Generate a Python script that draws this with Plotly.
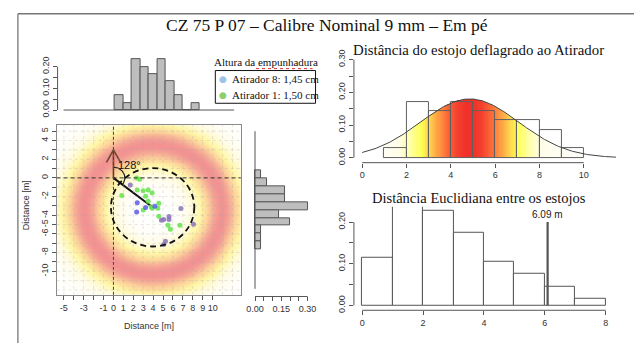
import numpy as np
import plotly.graph_objects as go

W, H = 634, 349

# ---------------- data ----------------
green_x = [2.34, 2.64, 0.84, 2.40, 3.00, 3.50, 3.90, 3.24, 3.50, 4.57, 3.90, 3.00, 4.47, 4.57, 5.50, 5.74, 6.70, 3.80]
green_y = [-0.02, -0.15, -1.90, -1.29, -1.39, -1.29, -1.63, -1.98, -2.50, -2.73, -3.25, -3.45, -3.25, -4.10, -5.07, -5.50, -5.07, -3.10]
blue_x = [2.40, 3.24, 2.34, 4.17]
blue_y = [-2.66, -3.18, -3.66, -3.04]
purple_x = [1.70, 5.07, 4.84, 5.60, 5.60, 6.80, 8.07, 5.24, 5.07]
purple_y = [-0.77, -4.45, -4.55, -4.14, -4.45, -3.28, -4.97, -6.79, -7.13]

main_xticks = list(range(-5, 11))
main_xtext = ["-5", "", "-3", "", "-1", "0", "1", "2", "3", "4", "5", "6", "7", "8", "9", "10"]
main_yticks = list(range(5, -11, -1))
main_ytext = ["5", "4", "", "2", "", "0", "", "-2", "", "-4", "-5", "-6", "", "-8", "", "-10"]

top_hist_left = [0, 1, 2, 3, 4, 5, 6, 7, 8, 9]
top_hist_vals = [0.067, 0.033, 0.233, 0.200, 0.167, 0.233, 0.133, 0.067, 0.0, 0.033]

right_hist_top = [1, 0, -1, -2, -3, -4, -5, -6, -7, -8]
right_hist_vals = [0.032, 0.069, 0.169, 0.169, 0.303, 0.135, 0.200, 0.032, 0.032, 0.032]

dist_left = [1, 2, 3, 4, 5, 6, 7, 8, 9]
dist_vals = [0.029, 0.171, 0.143, 0.171, 0.143, 0.114, 0.114, 0.086, 0.029]
DIST_MEAN, DIST_SD = 4.85, 2.216

eucl_left = [0, 1, 2, 3, 4, 5, 6, 7]
eucl_vals = [0.115, 0.245, 0.228, 0.175, 0.105, 0.077, 0.044, 0.017]
EUCL_MARK = 6.09

CENTER_X, CENTER_Y, CIRCLE_R = 3.95, -3.15, 4.2
ANGLE_DEG = 128
ARROW_LEN = 3.0
RING_CX, RING_CY, RING_R, RING_S = 4.0, -3.4, 6.9, 1.85

# ---------------- helpers ----------------
def px(x):
    return x / W

def py(y):
    return 1 - y / H

SANS = "Liberation Sans"
SERIF = "Liberation Serif"
AX = "#555555"
TF = dict(family=SANS, size=9, color="#333333")

fig = go.Figure()

# ---- main panel background ring ----
hx = np.arange(-5.8, 12.95, 0.1)
hy = np.arange(-12.6, 5.75, 0.1)
XX, YY = np.meshgrid(hx, hy)
DD = np.hypot(XX - RING_CX, YY - RING_CY)
ZZ = np.exp(-(DD - RING_R) ** 2 / (2 * RING_S ** 2))
fig.add_trace(go.Heatmap(
    x=hx, y=hy, z=ZZ, zmin=0, zmax=1, showscale=False, hoverinfo="skip",
    colorscale=[[0, "#ffffff"], [0.22, "#fffbe2"], [0.5, "#fff6a6"], [0.75, "#fcd09a"], [1, "#f29292"]],
    xaxis="x", yaxis="y"))

# arrow north
fig.add_trace(go.Scatter(x=[0, 0], y=[0, ARROW_LEN], mode="lines",
                         line=dict(color="#7a3b1e", width=1.6), xaxis="x", yaxis="y", hoverinfo="skip"))
fig.add_trace(go.Scatter(x=[-0.7, 0, 0.72], y=[ARROW_LEN - 1.35, ARROW_LEN, ARROW_LEN - 1.35], mode="lines",
                         line=dict(color="#6b4a2a", width=1.6), xaxis="x", yaxis="y", hoverinfo="skip"))
# arc for angle
th = np.radians(np.linspace(0, ANGLE_DEG, 40))
fig.add_trace(go.Scatter(x=1.15 * np.sin(th), y=1.15 * np.cos(th), mode="lines",
                         line=dict(color="#222222", width=1.2), xaxis="x", yaxis="y", hoverinfo="skip"))
# line to centre
fig.add_trace(go.Scatter(x=[0, CENTER_X], y=[0, CENTER_Y], mode="lines",
                         line=dict(color="#111111", width=2), xaxis="x", yaxis="y", hoverinfo="skip"))
# points
fig.add_trace(go.Scatter(x=green_x, y=green_y, mode="markers",
                         marker=dict(color="#62e448", size=5, opacity=0.85), xaxis="x", yaxis="y"))
fig.add_trace(go.Scatter(x=blue_x, y=blue_y, mode="markers",
                         marker=dict(color="#5a5ae8", size=5, opacity=0.85), xaxis="x", yaxis="y"))
fig.add_trace(go.Scatter(x=purple_x, y=purple_y, mode="markers",
                         marker=dict(color="#8a72b8", size=5, opacity=0.85), xaxis="x", yaxis="y"))

# ---- top histogram ----
fig.add_trace(go.Bar(x=[l + 0.5 for l in top_hist_left], y=top_hist_vals, width=1,
                     marker=dict(color="#bebebe", line=dict(color="#555555", width=1)),
                     xaxis="x2", yaxis="y2", hoverinfo="skip"))
# ---- right histogram ----
fig.add_trace(go.Bar(y=[t - 0.5 for t in right_hist_top], x=right_hist_vals, width=1, orientation="h",
                     marker=dict(color="#bebebe", line=dict(color="#555555", width=1)),
                     xaxis="x3", yaxis="y3", hoverinfo="skip"))

# ---- distance histogram with gradient fill ----
def dnorm(x):
    return np.exp(-(x - DIST_MEAN) ** 2 / (2 * DIST_SD ** 2)) / (DIST_SD * np.sqrt(2 * np.pi))

peak = dnorm(DIST_MEAN)
gx = np.arange(1.0 + 0.025, 10.0, 0.05)
gy = np.arange(0.001, 0.19, 0.002)
cv = dnorm(gx)
Z2 = np.where(gy[:, None] <= cv[None, :], (cv / peak)[None, :] * np.ones((len(gy), 1)), np.nan)
fig.add_trace(go.Heatmap(
    x=gx, y=gy, z=Z2, zmin=0, zmax=1, showscale=False, hoverinfo="skip",
    colorscale=[[0, "#ffffff"], [0.35, "#fffde8"], [0.5, "#ffff9a"], [0.62, "#ffff55"],
                [0.75, "#ffc24a"], [0.88, "#ff7a3c"], [1, "#f0302a"]],
    xaxis="x4", yaxis="y4"))
fig.add_trace(go.Bar(x=[l + 0.5 for l in dist_left], y=dist_vals, width=1,
                     marker=dict(color="rgba(0,0,0,0)", line=dict(color="#606060", width=1)),
                     xaxis="x4", yaxis="y4", hoverinfo="skip"))
cx = np.linspace(0, 11.45, 200)
fig.add_trace(go.Scatter(x=cx, y=dnorm(cx), mode="lines", line=dict(color="#444444", width=1),
                         xaxis="x4", yaxis="y4", hoverinfo="skip"))

# ---- euclidean histogram ----
fig.add_trace(go.Bar(x=[l + 0.5 for l in eucl_left], y=eucl_vals, width=1,
                     marker=dict(color="white", line=dict(color="#555555", width=1)),
                     xaxis="x5", yaxis="y5", hoverinfo="skip"))
fig.add_trace(go.Scatter(x=[EUCL_MARK, EUCL_MARK], y=[0, 0.20], mode="lines",
                         line=dict(color="#555555", width=2.2), xaxis="x5", yaxis="y5", hoverinfo="skip"))

# ---------------- axes ----------------
def base_axis(**kw):
    d = dict(showgrid=False, zeroline=False, ticks="outside", ticklen=4, tickcolor=AX,
             tickfont=TF, showline=False, fixedrange=True)
    d.update(kw)
    return d

layout_axes = dict(
    xaxis=base_axis(domain=[px(52), px(237.7)], range=[-5.73, 12.84], anchor="y",
                    tickvals=main_xticks, ticktext=main_xtext, showline=True, mirror=True,
                    linecolor="#8a8a8a", linewidth=1),
    yaxis=base_axis(domain=[py(299), py(122.7)], range=[-12.53, 5.65], anchor="x",
                    tickvals=main_yticks, ticktext=main_ytext, tickangle=-90, showline=True, mirror=True,
                    linecolor="#8a8a8a", linewidth=1),
    xaxis2=base_axis(domain=[px(53), px(235)], range=[-6.7, 14.47], anchor="y2",
                     showticklabels=False, ticks=""),
    yaxis2=base_axis(domain=[py(108), py(50)], range=[-0.0044, 0.2533], anchor="x2",
                     tickvals=[0, 0.05, 0.1, 0.15, 0.2], ticktext=["0.00", "", "0.10", "", "0.20"],
                     tickangle=-90),
    xaxis3=base_axis(domain=[px(248), px(318)], range=[-0.0226, 0.3735], anchor="y3",
                     tickvals=[0, 0.05, 0.1, 0.15, 0.2, 0.25, 0.3],
                     ticktext=["0.00", "", "", "0.15", "", "", "0.30"]),
    yaxis3=base_axis(domain=[py(300.7), py(125)], range=[-14.97, 6.49], anchor="x3",
                     showticklabels=False, ticks=""),
    xaxis4=base_axis(domain=[px(351.7), px(620)], range=[-0.372, 11.64], anchor="y4",
                     tickvals=[0, 2, 4, 6, 8, 10]),
    yaxis4=base_axis(domain=[py(161.7), py(52)], range=[-0.0147, 0.308], anchor="x4",
                     tickvals=[0, 0.05, 0.1, 0.15, 0.2, 0.25, 0.3],
                     ticktext=["0.00", "", "0.10", "", "0.20", "", "0.30"], tickangle=-90),
    xaxis5=base_axis(domain=[px(351.7), px(612)], range=[-0.27, 8.21], anchor="y5",
                     tickvals=[0, 2, 4, 6, 8]),
    yaxis5=base_axis(domain=[py(315), py(207.5)], range=[-0.01155, 0.2367], anchor="x5",
                     tickvals=[0, 0.05, 0.1, 0.15, 0.2], ticktext=["0.00", "", "0.10", "", "0.20"],
                     tickangle=-90),
)

shapes = []
# outer frame
shapes.append(dict(type="line", xref="paper", yref="paper", x0=px(13), x1=1, y0=py(7), y1=py(7),
                   line=dict(color="#777777", width=1.3)))
shapes.append(dict(type="line", xref="paper", yref="paper", x0=px(13), x1=px(13), y0=py(7), y1=0,
                   line=dict(color="#777777", width=1.3)))
# grid in main panel
for gxv in range(-5, 13):
    shapes.append(dict(type="line", xref="x", yref="y domain", x0=gxv, x1=gxv, y0=0, y1=1, layer="above",
                       line=dict(color="rgba(170,170,170,0.3)", width=1, dash="dot")))
for gyv in range(-12, 6):
    shapes.append(dict(type="line", xref="x domain", yref="y", x0=0, x1=1, y0=gyv, y1=gyv, layer="above",
                       line=dict(color="rgba(170,170,170,0.3)", width=1, dash="dot")))
# zero lines
shapes.append(dict(type="line", xref="x domain", yref="y", x0=0, x1=1, y0=0, y1=0, layer="above",
                   line=dict(color="#333333", width=1, dash="4px,3px")))
shapes.append(dict(type="line", xref="x", yref="y domain", x0=0, x1=0, y0=0, y1=1, layer="above",
                   line=dict(color="#444444", width=1, dash="3px,2px")))
# dashed circle
shapes.append(dict(type="circle", xref="x", yref="y", x0=CENTER_X - CIRCLE_R, x1=CENTER_X + CIRCLE_R,
                   y0=CENTER_Y - CIRCLE_R, y1=CENTER_Y + CIRCLE_R, layer="above",
                   line=dict(color="#111111", width=1.8, dash="6px,4px")))
# axis lines (R style, spanning tick range)
shapes.append(dict(type="line", xref="x2 domain", yref="y2", x0=0, x1=0, y0=0, y1=0.2, line=dict(color=AX, width=1)))
shapes.append(dict(type="line", xref="x2", yref="y2", x0=-6, x1=14, y0=0, y1=0, line=dict(color=AX, width=1)))
shapes.append(dict(type="line", xref="x3", yref="y3", x0=0, x1=0, y0=-14, y1=6, line=dict(color=AX, width=1)))
shapes.append(dict(type="line", xref="x3", yref="y3 domain", x0=0, x1=0.3, y0=0, y1=0, line=dict(color=AX, width=1)))
shapes.append(dict(type="line", xref="x4 domain", yref="y4", x0=0, x1=0, y0=0, y1=0.3, line=dict(color=AX, width=1)))
shapes.append(dict(type="line", xref="x4", yref="y4 domain", x0=0, x1=10, y0=0, y1=0, line=dict(color=AX, width=1)))
shapes.append(dict(type="line", xref="x5 domain", yref="y5", x0=0, x1=0, y0=0, y1=0.2, line=dict(color=AX, width=1)))
shapes.append(dict(type="line", xref="x5", yref="y5 domain", x0=0, x1=8, y0=0, y1=0, line=dict(color=AX, width=1)))
# legend box
shapes.append(dict(type="rect", xref="paper", yref="paper", x0=px(212), x1=px(313), y0=py(100), y1=py(66),
                   line=dict(color="#111111", width=1), fillcolor="white"))
shapes.append(dict(type="line", xref="paper", yref="paper", x0=px(253), x1=px(310), y0=py(64), y1=py(64),
                   line=dict(color="#e03030", width=1, dash="dot")))


def ann(text, x, y, size, family=SERIF, color="#111111", xanchor="center", **kw):
    d = dict(text=text, x=x, y=y, xref="paper", yref="paper", showarrow=False,
             xanchor=xanchor, yanchor="middle", font=dict(family=family, size=size, color=color))
    d.update(kw)
    return d


annotations = [
    ann("CZ 75 P 07 – Calibre Nominal 9 mm – Em pé", px(325), py(19), 17.5),
    ann("Distância do estojo deflagrado ao Atirador", px(477), py(45), 14.8),
    ann("Distância Euclidiana entre os estojos", px(478), py(198), 14.5),
    dict(text=f"{EUCL_MARK:.2f} m", x=EUCL_MARK, y=0.218, xref="x5", yref="y5", yanchor="middle",
         xanchor="center", showarrow=False, font=dict(family=SANS, size=10, color="#222222")),
    dict(text=f"{ANGLE_DEG}°", x=1.6, y=1.4, xref="x", yref="y", showarrow=False,
         xanchor="center", yanchor="middle", font=dict(family=SANS, size=11, color="#111111")),
    ann("Distance [m]", px(145), py(331), 9, family=SANS, color="#333333"),
    ann("Distance [m]", px(21), py(206), 9, family=SANS, color="#333333", textangle=-90),
    ann("Altura da empunhadura", px(263), py(57), 11),
    ann("●", px(220), py(75), 9, family="DejaVu Sans", color="#9dc3e6"),
    ann("●", px(220), py(91), 9, family="DejaVu Sans", color="#8fcf6b"),
    ann("Atirador 8: 1,45 cm", px(227), py(75), 11, xanchor="left"),
    ann("Atirador 1: 1,50 cm", px(227), py(91), 11, xanchor="left"),
]

fig.update_layout(
    width=W, height=H, margin=dict(l=0, r=0, t=0, b=0),
    paper_bgcolor="white", plot_bgcolor="white", showlegend=False,
    bargap=0, shapes=shapes, annotations=annotations, **layout_axes)

fig.write_html("out.html", config={"displayModeBar": False})
